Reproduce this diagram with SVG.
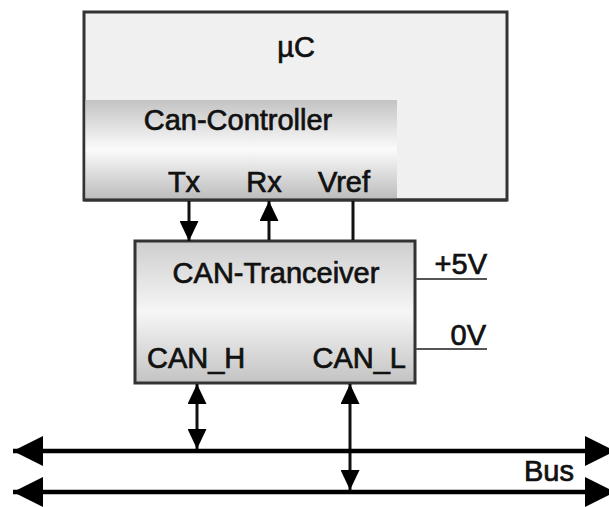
<svg xmlns="http://www.w3.org/2000/svg" width="609" height="507" viewBox="0 0 609 507">
  <defs>
    <linearGradient id="gCtrl" x1="0" y1="0" x2="0" y2="1">
      <stop offset="0" stop-color="#c3c3c3"/>
      <stop offset="0.5" stop-color="#fbfbfb"/>
      <stop offset="1" stop-color="#bdbdbd"/>
    </linearGradient>
    <linearGradient id="gTrx" x1="0" y1="0" x2="0" y2="1">
      <stop offset="0" stop-color="#cecece"/>
      <stop offset="0.5" stop-color="#f6f6f6"/>
      <stop offset="1" stop-color="#c3c3c3"/>
    </linearGradient>
    <marker id="ah" markerUnits="userSpaceOnUse" markerWidth="20" markerHeight="19" refX="20" refY="9.5" orient="auto-start-reverse">
      <path d="M0,0 L20,9.5 L0,19 Z" fill="#000"/>
    </marker>
    <marker id="bh" markerUnits="userSpaceOnUse" markerWidth="30" markerHeight="30" refX="30" refY="15" orient="auto-start-reverse">
      <path d="M0,0 L30,15 L0,30 Z" fill="#000"/>
    </marker>
  </defs>
  <style>
    text { font-family: "Liberation Sans", Arial, sans-serif; font-size: 29px; fill: #111; stroke: #111; stroke-width: 0.7px; }
    .box { stroke: #333; stroke-width: 3; }
    .sig { stroke: #111; stroke-width: 3; fill: none; }
    .pwr { stroke: #555; stroke-width: 2; fill: none; }
    .bus { stroke: #000; stroke-width: 4.5; fill: none; }
  </style>

  <g id="uC">
    <rect x="84" y="12" width="423" height="188" fill="#f0f0f0" class="box"/>
    <text x="296" y="57" text-anchor="middle">µC</text>
  </g>

  <g id="can-controller">
    <rect x="85.5" y="100" width="311.5" height="98.5" fill="url(#gCtrl)"/>
    <line x1="84" y1="200" x2="507" y2="200" stroke="#333" stroke-width="3"/>
    <text x="238" y="130" text-anchor="middle">Can-Controller</text>
    <text x="184" y="192" text-anchor="middle">Tx</text>
    <text x="264" y="192" text-anchor="middle">Rx</text>
    <text x="344" y="192" text-anchor="middle">Vref</text>
  </g>

  <g id="can-transceiver">
    <rect x="135" y="241" width="280" height="142" fill="url(#gTrx)" class="box"/>
    <text x="276" y="283" text-anchor="middle">CAN-Tranceiver</text>
    <text x="147" y="368">CAN_H</text>
    <text x="406" y="368" text-anchor="end">CAN_L</text>
  </g>

  <g id="power">
    <text x="487" y="274" text-anchor="end">+5V</text>
    <text x="486" y="345" text-anchor="end">0V</text>
  </g>

  <g id="bus">
    <text x="574" y="481" text-anchor="end">Bus</text>
  </g>

  <g id="connectors">
    <line x1="189" y1="201" x2="189" y2="241" class="sig" marker-end="url(#ah)"/>
    <line x1="269" y1="240" x2="269" y2="201" class="sig" marker-end="url(#ah)"/>
    <line x1="353" y1="201" x2="353" y2="240" class="sig"/>
    <line x1="416" y1="279" x2="487" y2="279" class="pwr"/>
    <line x1="416" y1="349" x2="487" y2="349" class="pwr"/>
    <line x1="197" y1="384" x2="197" y2="449" class="sig" marker-start="url(#ah)" marker-end="url(#ah)"/>
    <line x1="350" y1="384" x2="350" y2="490" class="sig" marker-start="url(#ah)" marker-end="url(#ah)"/>
    <line x1="13" y1="451" x2="615" y2="451" class="bus" marker-start="url(#bh)" marker-end="url(#bh)"/>
    <line x1="13" y1="492" x2="615" y2="492" class="bus" marker-start="url(#bh)" marker-end="url(#bh)"/>
  </g>
</svg>
